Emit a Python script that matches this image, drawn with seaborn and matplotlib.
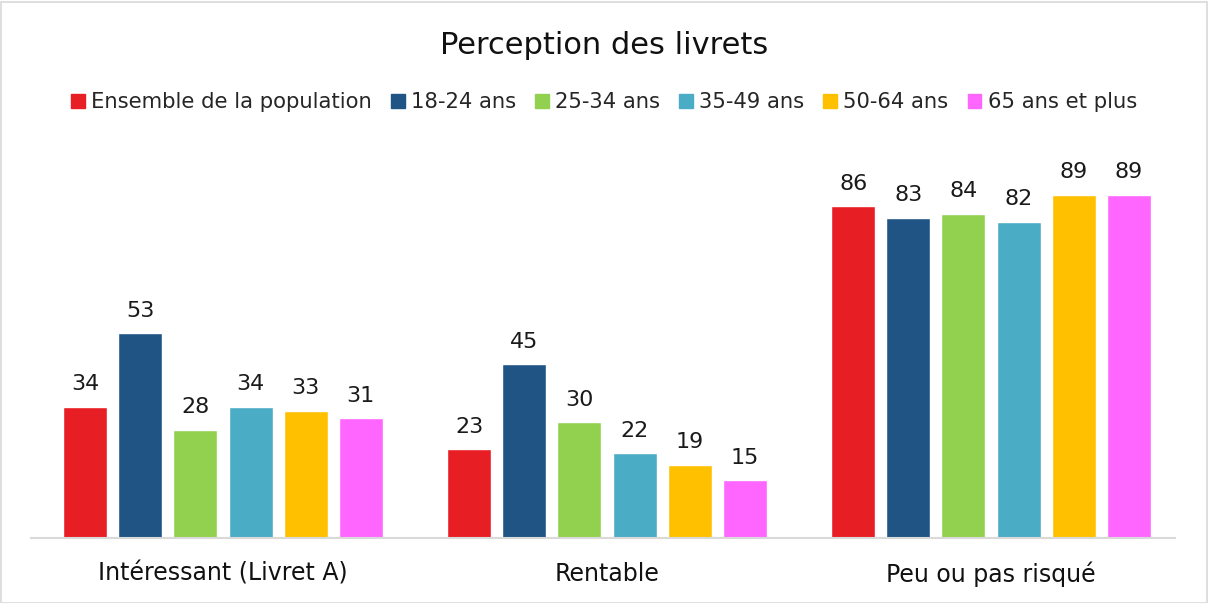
import matplotlib
matplotlib.use("Agg")
import matplotlib.pyplot as plt
import seaborn as sns
import pandas as pd
from matplotlib.patches import Rectangle

categories = ["Intéressant (Livret A)", "Rentable", "Peu ou pas risqué"]
series = ["Ensemble de la population", "18-24 ans", "25-34 ans", "35-49 ans", "50-64 ans", "65 ans et plus"]
ensemble = [34, 23, 86]
a18_24 = [53, 45, 83]
a25_34 = [28, 30, 84]
a35_49 = [34, 22, 82]
a50_64 = [33, 19, 89]
a65 = [31, 15, 89]
colors = ["#E81E25", "#1F5484", "#92D050", "#4BACC6", "#FFC000", "#FF66FF"]

values = [ensemble, a18_24, a25_34, a35_49, a50_64, a65]
rows = []
for s, vals in zip(series, values):
    for c, v in zip(categories, vals):
        rows.append({"cat": c, "serie": s, "val": v})
df = pd.DataFrame(rows)

sns.set_theme(style="white")
plt.rcParams["font.family"] = ["DejaVu Sans"]

fig = plt.figure(figsize=(12.08, 6.03), dpi=100)
ax = fig.add_axes([31/1208, (603-538)/603, 1152/1208, 0.64])

sns.barplot(data=df, x="cat", y="val", hue="serie", order=categories, hue_order=series,
            palette=colors, width=0.86, gap=0.2, ax=ax, legend=False, saturation=1)

for cont in ax.containers:
    ax.bar_label(cont, fmt="%g", padding=9, fontsize=16, color="#1a1a1a")

ax.set_ylim(0, 100)
ax.set_xlim(-0.5, 2.5)
ax.set_xlabel("")
ax.set_ylabel("")
ax.set_yticks([])
ax.tick_params(axis="x", length=0, labelsize=17, pad=17, colors="#111111")
for side in ["top", "right", "left"]:
    ax.spines[side].set_visible(False)
ax.spines["bottom"].set_color("#D9D9D9")
ax.spines["bottom"].set_linewidth(1.5)
ax.spines["bottom"].set_bounds(-0.5, 2.48)

fig.text(0.5, 1 - 45/603, "Perception des livrets", ha="center", va="center", fontsize=22, color="#111111")

handles = [Rectangle((0, 0), 1, 1, color=c) for c in colors]
fig.legend(handles, series, loc="center", bbox_to_anchor=(0.5, 1 - 102/603), ncol=6, frameon=False,
           fontsize=15.2, handlelength=0.65, handleheight=0.65, handletextpad=0.3, columnspacing=0.9)

border = Rectangle((0.5/1208, 0.5/603), 1 - 2/1208, 1 - 2/603, transform=fig.transFigure,
                   fill=False, edgecolor="#D9D9D9", linewidth=1.2)
fig.patches.append(border)

fig.savefig("out.png", dpi=100)
